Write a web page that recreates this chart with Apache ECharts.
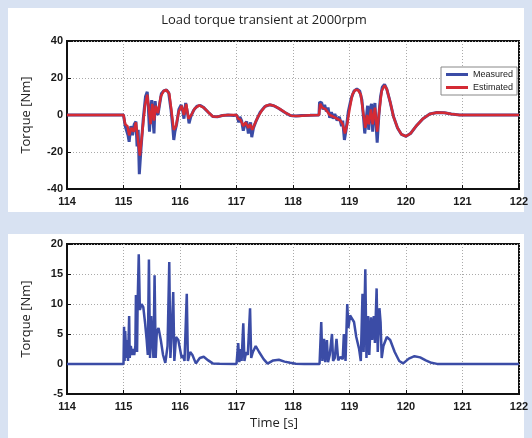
<!DOCTYPE html>
<html>
<head>
<meta charset="utf-8">
<script src="https://cdn.jsdelivr.net/npm/echarts@6/dist/echarts.min.js"></script>
<style>
  html, body { margin: 0; padding: 0; background: #d8e2f2; }
  #chart { width: 532px; height: 438px; }
</style>
</head>
<body>
<div id="chart"></div>
<script>
// 坐标轴范围
const timeRange = [114, 122];
const topRange = [-40, 40, 20];
const bottomRange = [-5, 20, 5];

// 上图：实测转矩 [t, Nm]
const measured = [
  [114, 0], [115.0, 0], [115.02, -1], [115.03, -6], [115.06, -5], [115.08, -11], [115.10, -14.5],
  [115.13, -6], [115.16, -11], [115.19, -5], [115.22, -3.5], [115.24, -17], [115.26, -8], [115.28, -32],
  [115.31, -18], [115.35, -2], [115.39, 10], [115.42, 12.5], [115.44, 4], [115.46, -9], [115.48, 3],
  [115.50, 8], [115.52, -2], [115.54, -10], [115.56, 7.5], [115.58, 2], [115.61, 0], [115.64, 6],
  [115.67, 11.5], [115.71, 13], [115.76, 13.5], [115.80, 12], [115.84, 3], [115.87, -6], [115.89, -13.5],
  [115.91, -9], [115.94, -5], [115.98, 3], [116.02, 5.5], [116.05, 2], [116.07, -2], [116.10, 6.5],
  [116.12, 7], [116.14, 0], [116.16, -4.5], [116.19, -1], [116.24, 2.5], [116.30, 4.8], [116.36, 5.2],
  [116.42, 4], [116.50, 1.5], [116.58, -0.8], [116.66, -1], [116.75, -0.3], [116.85, 0], [116.95, -0.3],
  [117.0, 0], [117.02, -1.5], [117.04, -4], [117.06, -1], [117.09, -3], [117.12, -8.5], [117.15, -5],
  [117.18, -3.5], [117.21, -10], [117.23, -6], [117.25, -4], [117.27, -12], [117.30, -7], [117.35, -3],
  [117.42, 1.5], [117.50, 4.5], [117.58, 5.5], [117.66, 5], [117.75, 3.5], [117.85, 1.5], [117.95, -0.3],
  [118.05, -0.6], [118.15, -0.3], [118.30, -0.2], [118.46, 0], [118.47, 7], [118.51, 6.5], [118.53, 3],
  [118.56, 5.5], [118.59, 2], [118.62, 4], [118.65, -1.5], [118.68, 1.5], [118.71, -2], [118.74, 0.5],
  [118.78, -3], [118.82, -1], [118.86, -6], [118.88, -3], [118.91, -13.5], [118.94, -8], [118.98, 2],
  [119.03, 9], [119.08, 13], [119.13, 14], [119.18, 13], [119.22, 8], [119.25, -2], [119.27, -10],
  [119.30, -1], [119.32, 5], [119.34, -8], [119.37, 4], [119.39, 6], [119.41, -9], [119.43, 2],
  [119.45, 6.5], [119.47, -5], [119.49, -15], [119.52, 0], [119.55, 10], [119.58, 15], [119.62, 16.5],
  [119.66, 14], [119.72, 7], [119.78, -1], [119.85, -7], [119.92, -10.5], [120.0, -11.5], [120.08, -10],
  [120.18, -6], [120.30, -2], [120.42, 0.5], [120.55, 1.3], [120.68, 1.2], [120.80, 0.5], [120.95, 0],
  [122, 0]
];

// 上图：估计转矩 [t, Nm]
const estimated = [
  [114, 0], [115.0, 0], [115.03, -5], [115.07, -6], [115.10, -11], [115.14, -7], [115.18, -9],
  [115.22, -4], [115.25, -12], [115.29, -22], [115.33, -10], [115.38, 5], [115.42, 11], [115.45, 3],
  [115.48, -5], [115.51, 6], [115.54, -3], [115.57, 5], [115.61, 1], [115.66, 10], [115.71, 13],
  [115.76, 13.5], [115.81, 11.5], [115.85, 2], [115.89, -8], [115.93, -6], [115.98, 2], [116.03, 5],
  [116.07, 0], [116.11, 6], [116.15, -2], [116.20, 0], [116.26, 3.5], [116.34, 5.2], [116.42, 4],
  [116.50, 1.5], [116.58, -0.8], [116.66, -1], [116.75, -0.3], [116.85, 0], [117.0, 0], [117.03, -2],
  [117.07, -2.5], [117.12, -6], [117.16, -4], [117.21, -7], [117.24, -5], [117.28, -8], [117.32, -5],
  [117.38, -1], [117.45, 2.5], [117.52, 5], [117.60, 5.5], [117.68, 4.8], [117.77, 3.2], [117.87, 1.2],
  [117.97, -0.4], [118.10, -0.5], [118.30, -0.2], [118.46, 0], [118.48, 6], [118.52, 4], [118.58, 3],
  [118.65, 0], [118.72, -1], [118.78, -2], [118.84, -3], [118.88, -5], [118.92, -10], [118.96, -5],
  [119.00, 3], [119.05, 11], [119.10, 13.5], [119.15, 13.5], [119.20, 11], [119.24, 2], [119.28, -7],
  [119.31, 0], [119.34, -5], [119.38, 3], [119.41, -5], [119.45, 4], [119.49, -9], [119.53, 3],
  [119.57, 13], [119.62, 16], [119.66, 14], [119.72, 7], [119.78, -1], [119.85, -7], [119.92, -10.5],
  [120.0, -11.5], [120.08, -10], [120.18, -6], [120.30, -2], [120.42, 0.5], [120.55, 1.3], [120.68, 1.2],
  [120.80, 0.5], [120.95, 0], [122, 0]
];

// 下图：转矩 [t, Nm]
const lower = [
  [114, 0], [115.0, 0], [115.01, 6.2], [115.02, 0.5], [115.03, 5.5], [115.05, 1], [115.07, 4],
  [115.08, 0.5], [115.10, 8], [115.11, 1], [115.13, 3], [115.15, 1.5], [115.17, 2.5], [115.19, 1.5],
  [115.21, 3], [115.22, 11.5], [115.24, 2], [115.25, 10], [115.27, 18.3], [115.29, 9], [115.32, 10],
  [115.35, 9.5], [115.38, 7], [115.41, 4], [115.43, 1.5], [115.45, 17.4], [115.47, 1], [115.49, 8],
  [115.51, 4], [115.53, 1], [115.55, 14.8], [115.57, 1], [115.59, 5.5], [115.62, 6], [115.66, 4],
  [115.70, 1.5], [115.74, 0.2], [115.78, 3], [115.81, 17], [115.83, 1], [115.85, 4.5], [115.88, 12],
  [115.90, 0.5], [115.93, 4.5], [115.97, 4], [116.00, 2.5], [116.03, 1], [116.05, 1.5], [116.08, 0.5],
  [116.12, 11.7], [116.14, 0.5], [116.18, 2], [116.22, 1.5], [116.28, 0.1], [116.35, 1], [116.42, 1.2],
  [116.50, 0.6], [116.58, 0.1], [116.70, 0.05], [117.0, 0], [117.02, 0.2], [117.03, 3.5], [117.05, 0.3],
  [117.07, 2.5], [117.09, 0.5], [117.12, 6.8], [117.14, 0.5], [117.17, 2], [117.20, 1.5], [117.24, 9.3],
  [117.26, 1], [117.29, 2], [117.34, 3], [117.40, 2], [117.48, 0.8], [117.55, 0.05], [117.65, 0.6],
  [117.75, 0.7], [117.85, 0.4], [117.95, 0.2], [118.05, 0.05], [118.20, 0], [118.47, 0], [118.49, 0.2],
  [118.50, 7], [118.52, 0.5], [118.55, 4.2], [118.57, 0.3], [118.60, 4], [118.62, 0.3], [118.65, 1.5],
  [118.69, 5], [118.71, 0.5], [118.74, 1], [118.77, 4.2], [118.80, 0.6], [118.84, 1.2], [118.88, 0.8],
  [118.90, 5], [118.93, 0.5], [118.96, 10], [118.98, 6], [119.01, 8.1], [119.04, 7.8], [119.08, 7],
  [119.12, 4.5], [119.17, 2.5], [119.20, 0.5], [119.23, 11.7], [119.25, 2], [119.28, 15.8], [119.30, 1],
  [119.33, 8], [119.35, 1.5], [119.38, 7.8], [119.40, 4], [119.43, 8], [119.45, 3.5], [119.48, 12.6],
  [119.50, 2], [119.53, 9.3], [119.55, 7], [119.57, 1], [119.60, 3], [119.66, 4.5], [119.72, 4],
  [119.80, 2], [119.88, 0.5], [119.95, 0.1], [120.05, 0.9], [120.15, 1.3], [120.25, 1.1], [120.35, 0.6],
  [120.45, 0.2], [120.55, 0.02], [122, 0]
];

const blue = '#3b4ca6';
const red = '#d42a34';
const tickFont = { fontFamily: 'Liberation Sans', fontWeight: 'bold', fontSize: 11, color: '#1a1a1a' };
const nameFont = { fontFamily: 'Open Sans', fontSize: 13, color: '#222' };

function xAxisOf(gridIndex) {
  return {
    type: 'value', gridIndex: gridIndex,
    min: timeRange[0], max: timeRange[1], interval: 1,
    axisLine: { show: true, onZero: false, lineStyle: { color: '#111', width: 2 } },
    axisTick: { show: true, inside: true, length: 4, lineStyle: { color: '#111' } },
    axisLabel: Object.assign({ margin: 7 }, tickFont),
    splitLine: { show: true, lineStyle: { color: '#aaa', type: [1, 2] } }
  };
}

function yAxisOf(gridIndex, range) {
  return {
    type: 'value', gridIndex: gridIndex,
    min: range[0], max: range[1], interval: range[2],
    name: 'Torque [Nm]', nameLocation: 'middle', nameGap: 34, nameTextStyle: nameFont,
    axisLine: { show: true, onZero: false, lineStyle: { color: '#111', width: 2 } },
    axisTick: { show: true, inside: true, length: 4, lineStyle: { color: '#111' } },
    axisLabel: Object.assign({ margin: 4 }, tickFont),
    splitLine: { show: true, lineStyle: { color: '#aaa', type: [1, 2] } }
  };
}

const chart = echarts.init(document.getElementById('chart'));

const option = {
  backgroundColor: '#d8e2f2',
  animation: false,
  graphic: [
    { type: 'rect', shape: { x: 8, y: 8, width: 516, height: 204 }, style: { fill: '#fff' }, z: -10 },
    { type: 'rect', shape: { x: 8, y: 234, width: 516, height: 204 }, style: { fill: '#fff' }, z: -10 },
    { type: 'text', x: 274, y: 423, style: { text: 'Time [s]', font: '13px "Open Sans"', fill: '#222', textAlign: 'center', textVerticalAlign: 'middle' } }
  ],
  title: {
    text: 'Load torque transient at 2000rpm',
    left: 259, top: 9, textAlign: 'center',
    textStyle: { fontFamily: 'Open Sans', fontSize: 13, fontWeight: 'normal', color: '#222' }
  },
  legend: {
    data: ['Measured', 'Estimated'],
    orient: 'vertical', left: 441, top: 67,
    icon: 'rect', itemWidth: 22, itemHeight: 3, itemGap: 4,
    padding: [3, 4, 3, 5],
    backgroundColor: '#fff', borderColor: '#888', borderWidth: 1,
    textStyle: { fontFamily: 'Liberation Sans', fontSize: 9, color: '#222' }
  },
  grid: [
    { left: 67, top: 41, width: 452, height: 148, show: true, borderColor: '#111', borderWidth: 2 },
    { left: 67, top: 244, width: 452, height: 150, show: true, borderColor: '#111', borderWidth: 2 }
  ],
  xAxis: [xAxisOf(0), xAxisOf(1)],
  yAxis: [yAxisOf(0, topRange), yAxisOf(1, bottomRange)],
  series: [
    { name: 'Measured', type: 'line', xAxisIndex: 0, yAxisIndex: 0, data: measured, showSymbol: false,
      color: blue, lineStyle: { color: blue, width: 3 } },
    { name: 'Estimated', type: 'line', xAxisIndex: 0, yAxisIndex: 0, data: estimated, showSymbol: false,
      color: red, lineStyle: { color: red, width: 2.5 } },
    { name: 'Torque', type: 'line', xAxisIndex: 1, yAxisIndex: 1, data: lower, showSymbol: false,
      color: blue, lineStyle: { color: blue, width: 2.5 } }
  ]
};

chart.setOption(option);
</script>
</body>
</html>
